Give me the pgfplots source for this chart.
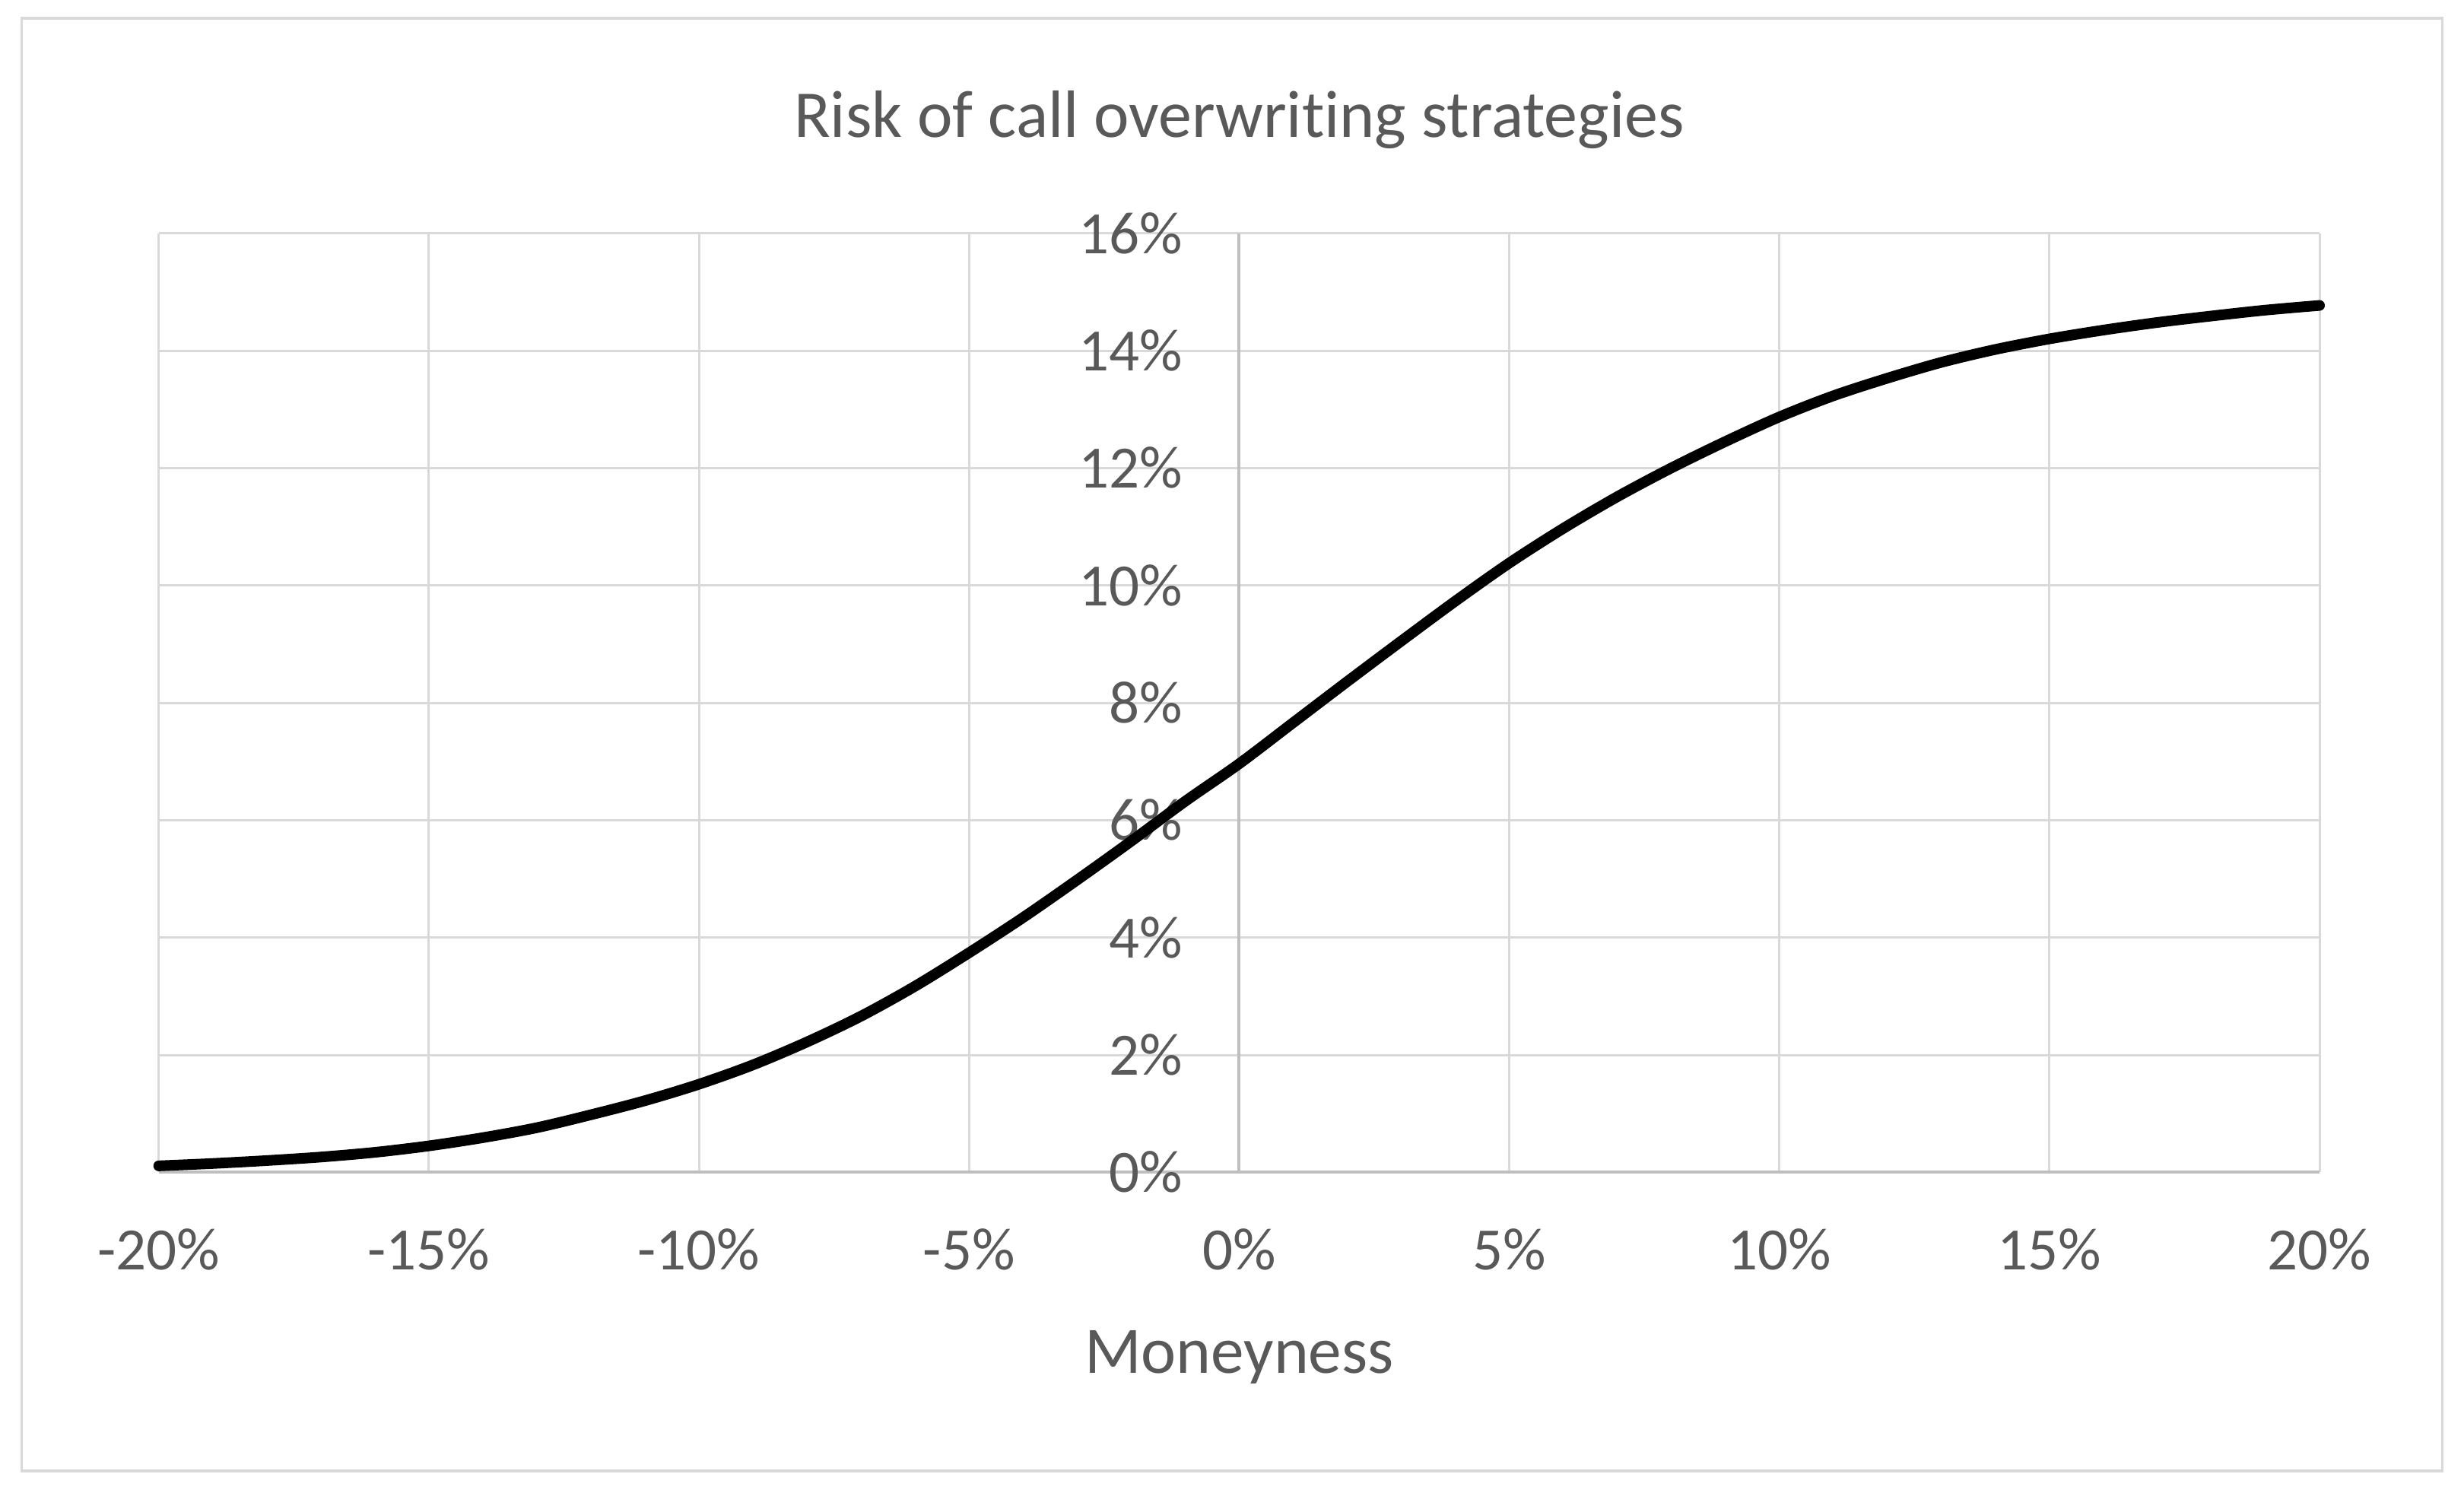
\documentclass[border=0pt]{standalone}
\usepackage{pgfplots}
\pgfplotsset{compat=1.18}
\usepackage{fontspec}
\setmainfont{Carlito}[Ligatures={NoCommon}]
\definecolor{txt}{HTML}{595959}
\definecolor{gridc}{HTML}{D9D9D9}
\definecolor{axc}{HTML}{BFBFBF}
\begin{document}
\begin{tikzpicture}
\path[use as bounding box] (0,0) rectangle (486pt,294.4pt);
\draw[gridc, line width=0.5pt] (4.3pt,4.3pt) rectangle (481.7pt,290.8pt);
\begin{axis}[
  at={(31.3pt,63.2pt)}, anchor=south west,
  scale only axis, width=426.2pt, height=185.2pt,
  xmin=-20, xmax=20, ymin=0, ymax=16,
  axis x line=bottom, axis y line=middle,
  axis line style={axc, line width=0.6pt, -},
  hide obscured x ticks=false, hide obscured y ticks=false,
  xtick={-20,-15,...,20}, ytick={0,2,...,16},
  xticklabels={-20\%,-15\%,-10\%,-5\%,0\%,5\%,10\%,15\%,20\%},
  yticklabels={0\%,2\%,4\%,6\%,8\%,10\%,12\%,14\%,16\%},
  major tick length=0pt,
  grid=major, major grid style={gridc, line width=0.45pt},
  tick label style={font=\fontsize{11.85}{14}\selectfont, text=txt},
  xticklabel style={anchor=base, yshift=-19.2pt},
  yticklabel style={anchor=east, inner sep=0pt, xshift=-11pt},
  title={Risk of call overwriting strategies},
  title style={font=\fontsize{13.2}{16}\selectfont, text=txt, anchor=base,
    at={(axis description cs:0.5,1)}, yshift=13pt},
  xlabel={Moneyness},
  xlabel style={font=\fontsize{13.1}{16}\selectfont, text=txt, anchor=base,
    at={(axis description cs:0.5,0)}, yshift=-39.6pt},
  clip=false,
]
\addplot[black, line width=2.1pt, smooth, line cap=round, line join=round] coordinates {
  (-20,0.11) (-19,0.15) (-18,0.20) (-17,0.26) (-16,0.34) (-15,0.45)
  (-14,0.59) (-13,0.76) (-12,0.98) (-11,1.22) (-10,1.50) (-9,1.83)
  (-8,2.22) (-7,2.66) (-6,3.17) (-5,3.74) (-4,4.34) (-3,4.98)
  (-2,5.64) (-1,6.32) (0,6.96) (1,7.66) (2,8.36) (3,9.05)
  (4,9.73) (5,10.38) (6,10.97) (7,11.51) (8,12.00) (9,12.45)
  (10,12.87) (11,13.23) (12,13.53) (13,13.80) (14,14.02) (15,14.20)
  (16,14.35) (17,14.48) (18,14.59) (19,14.69) (20,14.77)
};
\end{axis}
\end{tikzpicture}
\end{document}
